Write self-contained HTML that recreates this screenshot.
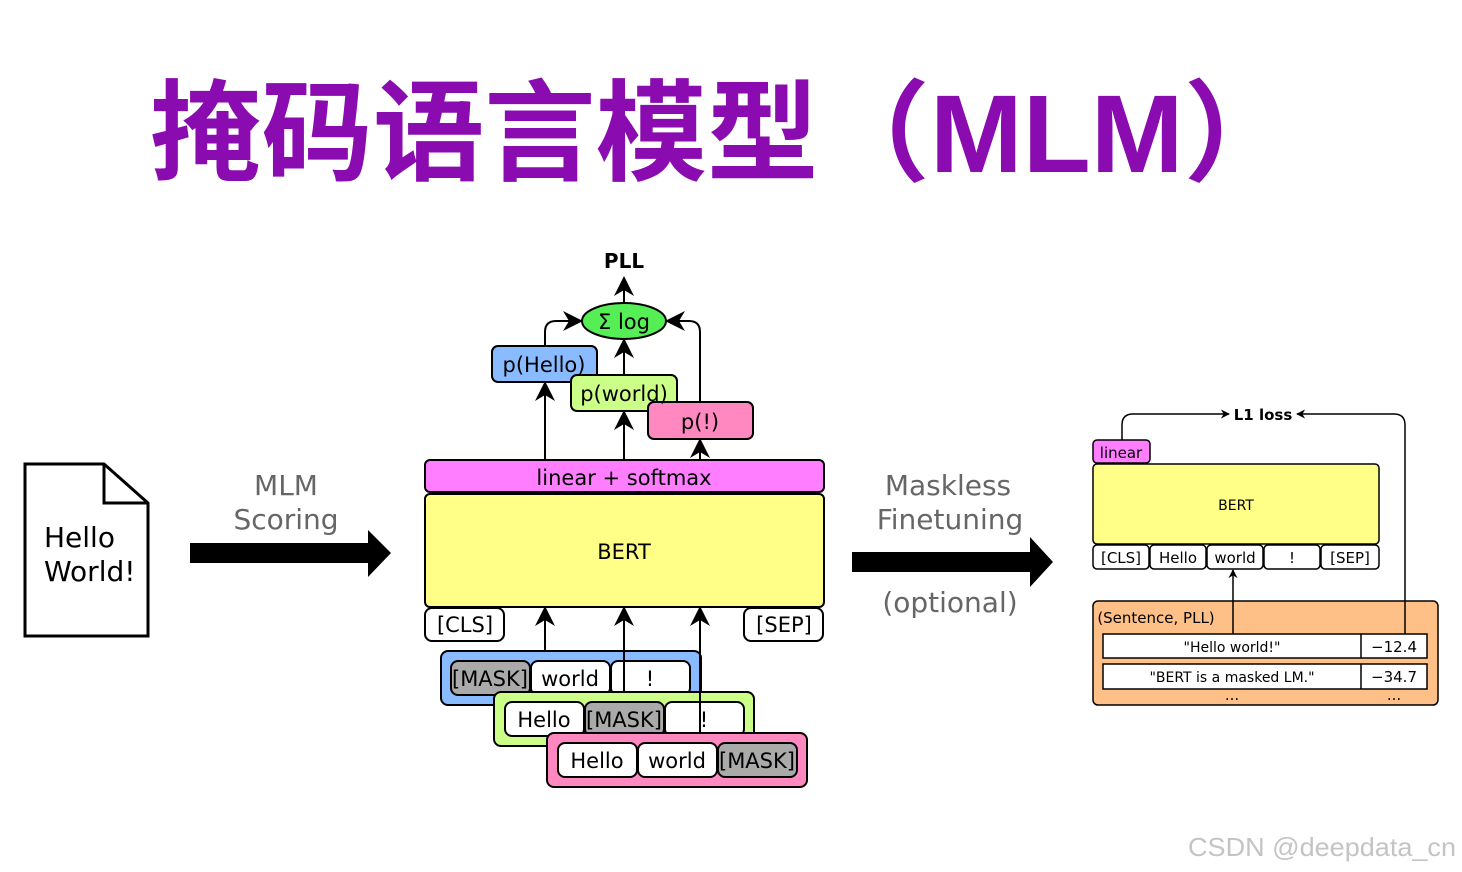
<!DOCTYPE html>
<html><head><meta charset="utf-8"><style>body{margin:0;background:#fff}svg{display:block}text{font-family:"DejaVu Sans","Liberation Sans",sans-serif}</style></head><body>
<svg width="1462" height="872" viewBox="0 0 1462 872" xmlns="http://www.w3.org/2000/svg">
<defs><marker id="a" viewBox="0 0 10 10" refX="9" refY="5" markerWidth="9" markerHeight="9" markerUnits="userSpaceOnUse" orient="auto"><path d="M0,0 L10,5 L0,10 L3,5z" fill="#000"/></marker>
<marker id="b" viewBox="0 0 10 10" refX="9" refY="5" markerWidth="20" markerHeight="20" markerUnits="userSpaceOnUse" orient="auto"><path d="M0,0 L10,5 L0,10 L3,5z" fill="#000"/></marker></defs>
<text x="150" y="172" font-size="110" font-weight="bold" fill="#8A0BB0" textLength="1145" lengthAdjust="spacingAndGlyphs" style="font-family:'Liberation Sans','Noto Sans CJK SC',sans-serif">掩码语言模型（MLM）</text>
<path d="M25,464 H104 L148,503 V636 H25Z" fill="#fff" stroke="#000" stroke-width="3"/>
<path d="M104,464 V503 H148" fill="none" stroke="#000" stroke-width="3"/>
<text x="44" y="547" font-size="28">Hello</text><text x="44" y="581" font-size="28">World!</text>
<g fill="#666" font-size="28" text-anchor="middle"><text x="286" y="495">MLM</text><text x="286" y="529">Scoring</text>
<text x="948" y="495">Maskless</text><text x="950" y="529">Finetuning</text><text x="950" y="612">(optional)</text></g>
<path d="M190,543 H368 V530 L391,553 L368,577 V563 H190Z" fill="#000"/>
<path d="M852,552 H1030 V537 L1053,562 L1030,587 V572 H852Z" fill="#000"/>
<g stroke="#000" stroke-width="2">
<rect x="425" y="460" width="399" height="32" rx="5" fill="#FF7DFF"/>
<rect x="425" y="494" width="399" height="113" rx="5" fill="#FFFF88"/>
<rect x="425" y="608" width="79" height="33" rx="7" fill="#fff"/>
<rect x="744" y="608" width="79" height="33" rx="7" fill="#fff"/>
<rect x="441" y="651" width="260" height="54" rx="7" fill="#88BBFF"/>
<rect x="451" y="661" width="79" height="34" rx="7" fill="#AAA"/><rect x="531" y="661" width="79" height="34" rx="7" fill="#fff"/><rect x="611" y="661" width="79" height="34" rx="7" fill="#fff"/>
<rect x="494" y="692" width="260" height="54" rx="7" fill="#CCFF88"/>
<rect x="505" y="702" width="79" height="34" rx="7" fill="#fff"/><rect x="585" y="702" width="79" height="34" rx="7" fill="#AAA"/><rect x="665" y="702" width="79" height="34" rx="7" fill="#fff"/>
<rect x="547" y="733" width="260" height="54" rx="7" fill="#FF88C0"/>
<rect x="558" y="743" width="79" height="34" rx="7" fill="#fff"/><rect x="638" y="743" width="79" height="34" rx="7" fill="#fff"/><rect x="718" y="743" width="79" height="34" rx="7" fill="#AAA"/>
<rect x="492" y="346" width="105" height="36" rx="6" fill="#88BBFF"/>
<rect x="571" y="375" width="106" height="36" rx="6" fill="#CCFF88"/>
<rect x="648" y="402" width="105" height="37" rx="6" fill="#FF88C0"/>
<ellipse cx="624" cy="321" rx="42" ry="18" fill="#55EE55"/>
</g>
<g stroke="#000" stroke-width="2" fill="none">
<line x1="545" y1="651" x2="545" y2="608" marker-end="url(#b)"/>
<line x1="624" y1="692" x2="624" y2="608" marker-end="url(#b)"/>
<line x1="700" y1="733" x2="700" y2="608" marker-end="url(#b)"/>
<line x1="545" y1="460" x2="545" y2="383" marker-end="url(#b)"/>
<line x1="624" y1="460" x2="624" y2="412" marker-end="url(#b)"/>
<line x1="700" y1="460" x2="700" y2="440" marker-end="url(#b)"/>
<line x1="624" y1="375" x2="624" y2="340" marker-end="url(#b)"/>
<line x1="624" y1="303" x2="624" y2="278" marker-end="url(#b)"/>
<path d="M545,346 V332 Q545,321 556,321 H581" marker-end="url(#b)"/>
<path d="M700,402 V332 Q700,321 689,321 H667" marker-end="url(#b)"/>
</g>
<g font-size="21" text-anchor="middle">
<text x="624" y="485">linear + softmax</text><text x="624" y="559">BERT</text>
<text x="465" y="632">[CLS]</text><text x="784" y="632">[SEP]</text>
<text x="490" y="686">[MASK]</text><text x="570" y="686">world</text><text x="650" y="686">!</text>
<text x="544" y="727">Hello</text><text x="624" y="727">[MASK]</text><text x="704" y="727">!</text>
<text x="597" y="768">Hello</text><text x="677" y="768">world</text><text x="757" y="768">[MASK]</text>
<text x="544" y="372">p(Hello)</text><text x="624" y="401">p(world)</text><text x="700" y="429">p(!)</text>
<text x="624" y="329">Σ log</text>
<text x="624" y="268" font-weight="bold" font-size="20">PLL</text>
</g>
<g stroke="#000" stroke-width="1.5">
<rect x="1093" y="440" width="57" height="23" rx="4" fill="#FF7DFF"/>
<rect x="1093" y="464" width="286" height="80" rx="4" fill="#FFFF88"/>
<rect x="1093" y="545" width="56" height="24" rx="4" fill="#fff"/><rect x="1150" y="545" width="56" height="24" rx="4" fill="#fff"/><rect x="1207" y="545" width="56" height="24" rx="4" fill="#fff"/><rect x="1264" y="545" width="56" height="24" rx="4" fill="#fff"/><rect x="1321" y="545" width="58" height="24" rx="4" fill="#fff"/>
<rect x="1093" y="601" width="345" height="104" rx="5" fill="#FFC088"/>
<rect x="1103" y="634" width="324" height="24" fill="#fff"/><line x1="1361" y1="634" x2="1361" y2="658"/>
<rect x="1103" y="664" width="324" height="25" fill="#fff"/><line x1="1361" y1="664" x2="1361" y2="689"/>
</g>
<g stroke="#000" stroke-width="1.5" fill="none">
<path d="M1122,440 V425 Q1122,414 1133,414 H1229" marker-end="url(#a)"/>
<path d="M1405,634 V425 Q1405,414 1394,414 H1297" marker-end="url(#a)"/>
<line x1="1233" y1="634" x2="1233" y2="570" marker-end="url(#a)"/>
</g>
<g font-size="15" text-anchor="middle">
<text x="1121" y="458">linear</text><text x="1236" y="510" font-size="14">BERT</text>
<text x="1121" y="563">[CLS]</text><text x="1178" y="563">Hello</text><text x="1235" y="563">world</text><text x="1292" y="563">!</text><text x="1350" y="563">[SEP]</text>
<text x="1156" y="623">(Sentence, PLL)</text>
<text x="1232" y="652" font-size="14">"Hello world!"</text><text x="1394" y="652">−12.4</text>
<text x="1232" y="682" font-size="14">"BERT is a masked LM."</text><text x="1394" y="682">−34.7</text>
<text x="1232" y="700">...</text><text x="1394" y="700">...</text>
<text x="1263" y="420" font-weight="bold">L1 loss</text>
</g>
<text x="1188" y="856" font-size="26" fill="#c4c4c4" textLength="268" lengthAdjust="spacingAndGlyphs" style="font-family:'Liberation Sans',sans-serif">CSDN @deepdata_cn</text>
</svg>
</body></html>
